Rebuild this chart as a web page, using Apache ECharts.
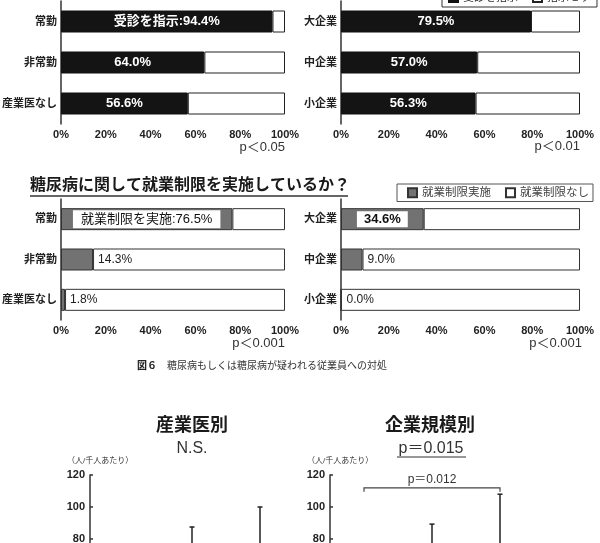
<!DOCTYPE html>
<html>
<head>
<meta charset="utf-8">
<script src="https://cdn.jsdelivr.net/npm/echarts@6/dist/echarts.min.js"></script>
<style>
  html, body { margin: 0; padding: 0; background: #fff; }
  #main { width: 600px; height: 543px; }
</style>
</head>
<body>
<div id="main"></div>
<script>
  // 区分
  const ishiCats = ['常勤', '非常勤', '産業医なし'];
  const kiboCats = ['大企業', '中企業', '小企業'];
  const pctTicks = [0, 20, 40, 60, 80, 100];
  // 受診を指示（%）
  const jushinIshi = [94.4, 64.0, 56.6];
  const jushinKibo = [79.5, 57.0, 56.3];
  // 就業制限を実施（%）
  const seigenIshi = [76.5, 14.3, 1.8];
  const seigenKibo = [34.6, 9.0, 0.0];
  // 下段（人/千人あたり）平均と誤差上端（下は切れているので推定）
  const rateTicks = [0, 20, 40, 60, 80, 100, 120];
  const rateIshiMean = [52, 60, 68];
  const rateIshiUpper = [72, 87.5, 100];
  const rateKiboMean = [45, 62, 75];
  const rateKiboUpper = [66, 89.3, 108];
  const bracketKibo = [[0, 2, 112, 109.5]];

  const FONT = '"Liberation Sans", "Noto Sans CJK JP", sans-serif';
  const INK = '#222';

  let myChart = echarts.init(document.getElementById('main'), null, { renderer: 'canvas' });

  function pctX(idx) {
    return {
      type: 'value', gridIndex: idx, min: pctTicks[0], max: pctTicks[pctTicks.length - 1],
      interval: pctTicks[1] - pctTicks[0],
      axisLine: { show: false }, axisTick: { show: false }, splitLine: { show: false },
      axisLabel: { formatter: '{value}%', color: INK, fontSize: 11, fontWeight: 'bold', fontFamily: FONT, margin: 5 }
    };
  }
  function catY(idx, cats) {
    return {
      type: 'category', gridIndex: idx, data: cats, inverse: true,
      axisLine: { show: true, lineStyle: { color: '#333', width: 1.5 } },
      axisTick: { show: false },
      axisLabel: { color: INK, fontSize: 11, fontWeight: 'bold', fontFamily: FONT, margin: 4 }
    };
  }
  function rateY(idx) {
    return {
      type: 'value', gridIndex: idx, min: rateTicks[0], max: rateTicks[rateTicks.length - 1],
      interval: rateTicks[1] - rateTicks[0],
      axisLine: { show: true, lineStyle: { color: '#333', width: 1.5 } },
      axisTick: { show: true, inside: true, length: 3, lineStyle: { color: '#333', width: 1.5 } },
      splitLine: { show: false },
      axisLabel: { color: INK, fontSize: 11, fontWeight: 'bold', fontFamily: FONT, margin: 5 }
    };
  }
  function rateX(idx, cats) {
    return {
      type: 'category', gridIndex: idx, data: cats,
      axisLine: { show: false }, axisTick: { show: false }, axisLabel: { show: false }
    };
  }

  // 上段の棒（受診を指示）
  function jushinSeries(idx, vals, first) {
    return [
      {
        name: '受診を指示', type: 'bar', xAxisIndex: idx, yAxisIndex: idx, stack: 'j' + idx,
        barWidth: 22,
        itemStyle: { color: '#141414', borderColor: '#111', borderWidth: 1 },
        label: {
          show: true, position: 'inside', color: '#fff', fontSize: 13, fontWeight: 'bold', fontFamily: FONT,
          formatter: p => (p.dataIndex === 0 && first ? first : '') + p.value.toFixed(1) + '%'
        },
        data: vals
      },
      {
        name: '指示せず', type: 'bar', xAxisIndex: idx, yAxisIndex: idx, stack: 'j' + idx,
        barWidth: 22,
        itemStyle: { color: '#fff', borderColor: '#222', borderWidth: 1 },
        data: vals.map(v => +(100 - v).toFixed(1))
      }
    ];
  }

  // 中段の棒（就業制限）
  function seigenSeries(idx, vals, firstLabel) {
    return [
      {
        name: '就業制限実施', type: 'bar', xAxisIndex: idx, yAxisIndex: idx, stack: 's' + idx,
        barWidth: 22,
        itemStyle: { color: '#727272', borderColor: '#333', borderWidth: 1 },
        label: {
          show: true, position: 'right', distance: 5, color: INK, fontSize: 12, fontFamily: FONT,
          formatter: p => p.value.toFixed(1) + '%'
        },
        data: vals.map((v, i) => i === 0 ? {
          value: v,
          label: Object.assign({
            position: 'inside', backgroundColor: '#fff', color: '#111',
            formatter: p => (firstLabel.text || '') + p.value.toFixed(1) + '%'
          }, firstLabel.style)
        } : v)
      },
      {
        name: '就業制限なし', type: 'bar', xAxisIndex: idx, yAxisIndex: idx, stack: 's' + idx,
        barWidth: 22,
        itemStyle: { color: '#fff', borderColor: '#333', borderWidth: 1 },
        data: vals.map(v => +(100 - v).toFixed(1))
      }
    ];
  }

  function errRender(params, api) {
    const a = api.coord([api.value(0), api.value(1)]);
    const b = api.coord([api.value(0), api.value(2)]);
    const st = { stroke: '#222', lineWidth: 1.5 };
    return {
      type: 'group', children: [
        { type: 'line', shape: { x1: a[0], y1: a[1], x2: b[0], y2: b[1] }, style: st },
        { type: 'line', shape: { x1: b[0] - 2.5, y1: b[1], x2: b[0] + 2.5, y2: b[1] }, style: st }
      ]
    };
  }
  function bracketRender(params, api) {
    const l = api.coord([api.value(0), api.value(2)]);
    const r = api.coord([api.value(1), api.value(2)]);
    const lb = api.coord([api.value(0), api.value(3)]);
    const st = { stroke: '#444', lineWidth: 1.2, fill: null };
    return {
      type: 'group', children: [
        { type: 'polyline', shape: { points: [[l[0], lb[1]], l, r, [r[0], lb[1]]] }, style: st },
        {
          type: 'text',
          style: {
            text: 'p＝0.012', x: (l[0] + r[0]) / 2, y: l[1] - 2,
            textAlign: 'center', textVerticalAlign: 'bottom',
            fill: '#333', fontSize: 12, fontFamily: FONT
          }
        }
      ]
    };
  }

  function rateSeries(idx, mean, upper) {
    return [
      {
        type: 'bar', xAxisIndex: idx, yAxisIndex: idx, barWidth: '45%',
        itemStyle: { color: '#fff', borderColor: '#222', borderWidth: 1 },
        data: mean
      },
      {
        type: 'custom', xAxisIndex: idx, yAxisIndex: idx, renderItem: errRender, z: 3,
        data: mean.map((m, i) => [i, m, upper[i]])
      }
    ];
  }

  function txt(x, y, text, size, opts) {
    return {
      type: 'text', x: x, y: y, silent: true,
      style: Object.assign({
        text: text, fontSize: size, fontFamily: FONT, fill: INK,
        textAlign: 'center', textVerticalAlign: 'middle'
      }, opts || {})
    };
  }
  function uline(x1, x2, y, w) {
    return { type: 'line', shape: { x1: x1, y1: y, x2: x2, y2: y }, style: { stroke: '#333', lineWidth: w || 1.5 } };
  }

  function grid(l, t, w, h) {
    return { left: l, top: t, width: w, height: h, outerBoundsMode: 'none', containLabel: false };
  }

  myChart.setOption({
    animation: false,
    backgroundColor: '#fff',
    grid: [
      grid(61, 1, 224, 123),
      grid(341, 1, 239, 123),
      grid(61, 199, 224, 121),
      grid(341, 199, 239, 121),
      grid(90, 475, 204, 192),
      grid(330, 475, 204, 192)
    ],
    legend: [
      {
        data: ['受診を指示', '指示せず'], top: -12, left: 442, icon: 'rect',
        itemWidth: 9, itemHeight: 9, itemGap: 14, padding: [4, 6, 4, 6],
        borderColor: '#333', borderWidth: 1,
        textStyle: { fontSize: 11, color: '#333', fontFamily: FONT }
      },
      {
        data: ['就業制限実施', '就業制限なし'], top: 184, left: 397, icon: 'rect',
        itemWidth: 9, itemHeight: 9, itemGap: 14, padding: [3, 4, 3, 10],
        borderColor: '#555', borderWidth: 1,
        textStyle: { fontSize: 11.5, color: '#444', fontFamily: FONT }
      }
    ],
    xAxis: [pctX(0), pctX(1), pctX(2), pctX(3), rateX(4, ishiCats), rateX(5, kiboCats)],
    yAxis: [catY(0, ishiCats), catY(1, kiboCats), catY(2, ishiCats), catY(3, kiboCats), rateY(4), rateY(5)],
    series: [].concat(
      jushinSeries(0, jushinIshi, '受診を指示:'),
      jushinSeries(1, jushinKibo, ''),
      seigenSeries(2, seigenIshi, { text: '就業制限を実施:', style: { fontSize: 13, padding: [3, 8, 2, 8] } }),
      seigenSeries(3, seigenKibo, { text: '', style: { fontSize: 13, fontWeight: 'bold', padding: [2, 7, 1, 7] } }),
      rateSeries(4, rateIshiMean, rateIshiUpper),
      rateSeries(5, rateKiboMean, rateKiboUpper),
      [{
        type: 'custom', xAxisIndex: 5, yAxisIndex: 5, renderItem: bracketRender, z: 4,
        data: bracketKibo
      }]
    ),
    graphic: [
      txt(285, 147, 'p＜0.05', 13, { textAlign: 'right', fill: '#333' }),
      txt(580, 146, 'p＜0.01', 13, { textAlign: 'right', fill: '#333' }),
      txt(30, 186, '糖尿病に関して就業制限を実施しているか？', 16, { textAlign: 'left', fontWeight: 'bold', fill: '#1a1a1a' }),
      uline(30, 348, 196),
      txt(285, 343, 'p＜0.001', 13, { textAlign: 'right', fill: '#333' }),
      txt(582, 343, 'p＜0.001', 13, { textAlign: 'right', fill: '#333' }),
      {
        type: 'text', x: 137, y: 365, silent: true,
        style: {
          text: '{b|図６}　糖尿病もしくは糖尿病が疑われる従業員への対処',
          textVerticalAlign: 'middle', fill: '#333', fontSize: 10, fontFamily: '"Noto Sans CJK JP", sans-serif',
          rich: { b: { fontWeight: 'bold', fontSize: 10, fill: '#222', fontFamily: '"Noto Sans CJK JP", sans-serif' } }
        }
      },
      txt(192, 426, '産業医別', 18, { fontWeight: 'bold', fill: '#1a1a1a' }),
      txt(192, 449, 'N.S.', 16, { fill: '#333' }),
      txt(430, 426, '企業規模別', 18, { fontWeight: 'bold', fill: '#1a1a1a' }),
      txt(431, 449, 'p＝0.015', 16, { fill: '#333' }),
      uline(397, 466, 457, 1.2),
      txt(67, 461, '（人/千人あたり）', 8, { textAlign: 'left', fill: '#333' }),
      txt(307, 461, '（人/千人あたり）', 8, { textAlign: 'left', fill: '#333' })
    ]
  });

  window.onresize = function () { myChart.resize(); };
</script>
</body>
</html>
